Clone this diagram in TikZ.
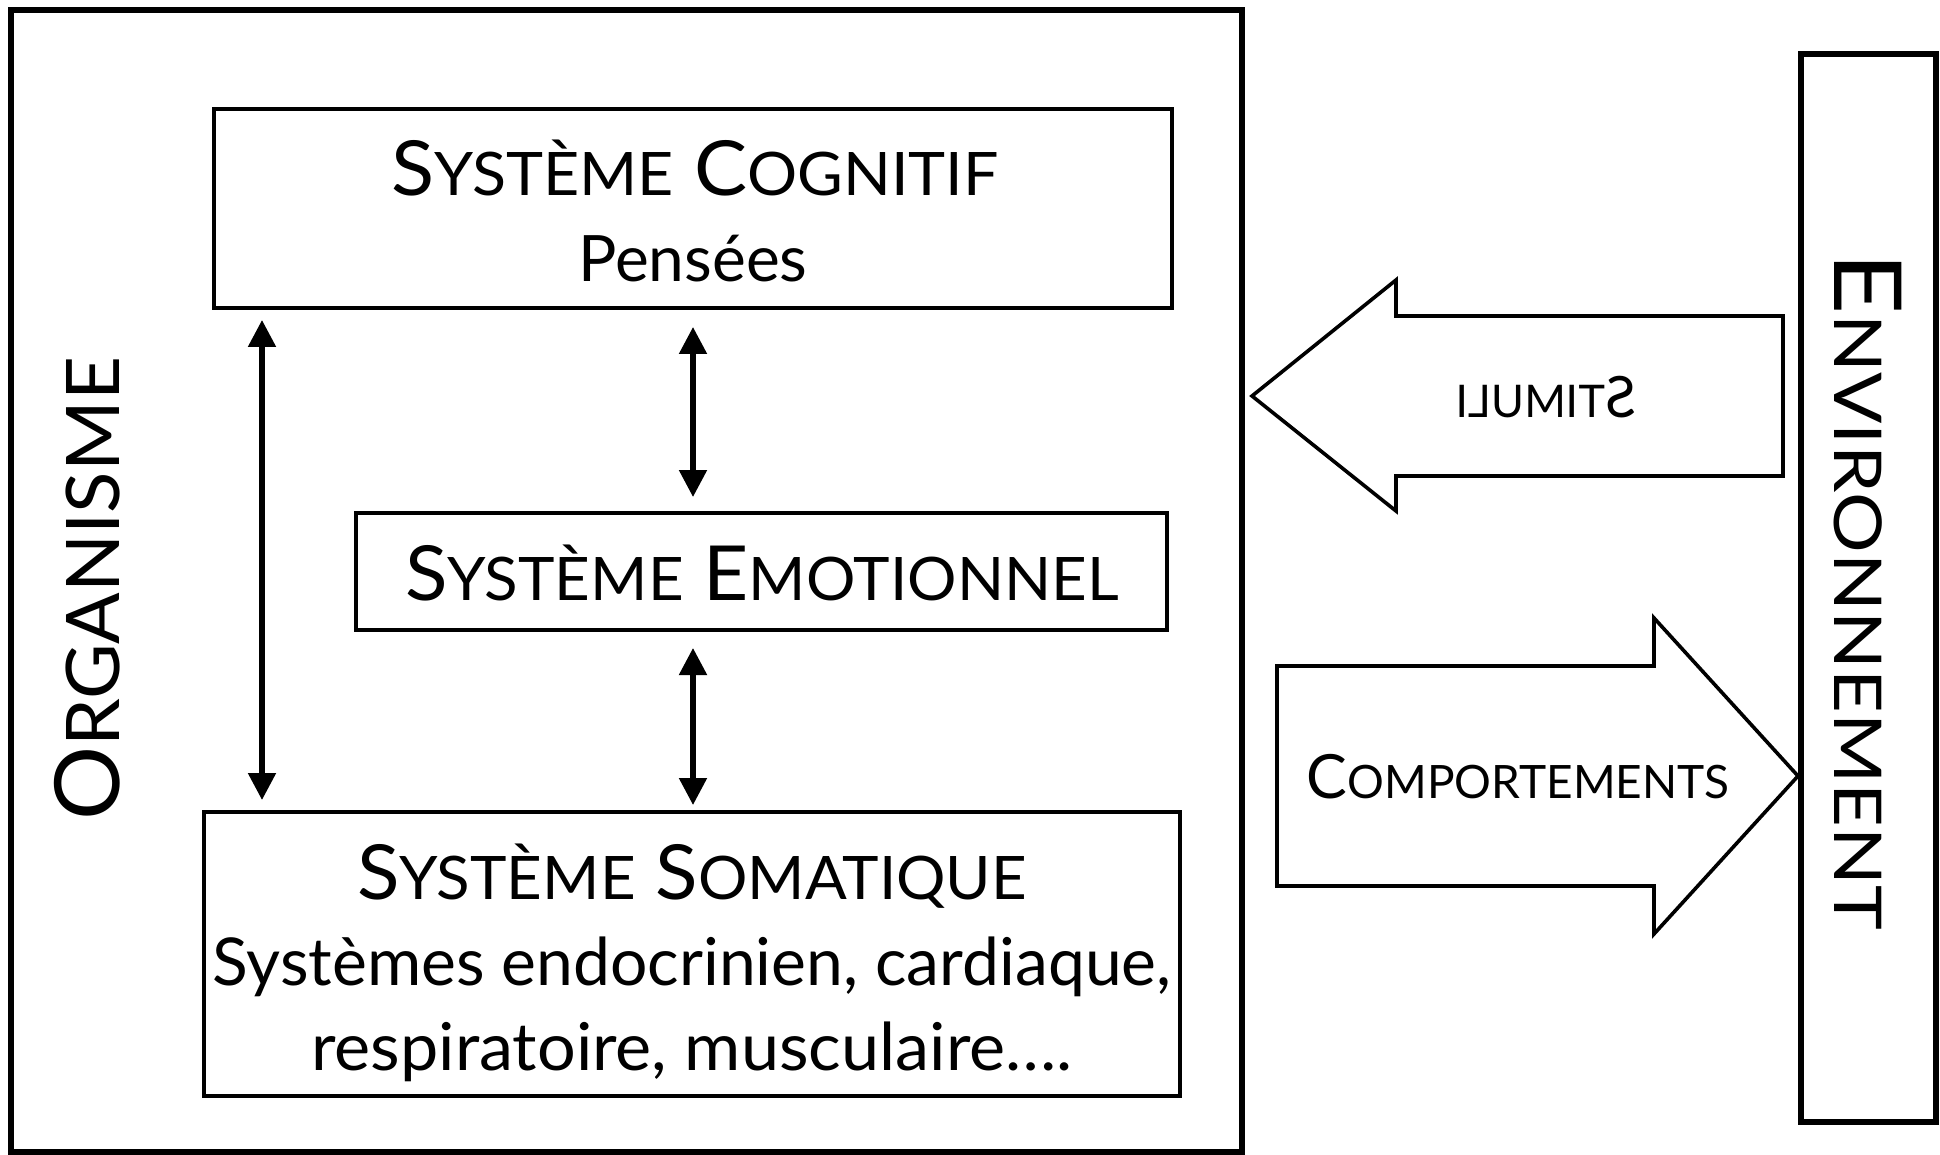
\documentclass[tikz,border=0pt]{standalone}
\usepackage{fontspec}
\setmainfont{Lato}
\usetikzlibrary{arrows.meta}

% small capitals built from two sizes of capitals
\newcommand\smc[2]{{\fontsize{#1}{#1}\selectfont #2}}
\newcommand\fsz[1]{\fontsize{#1}{#1}\selectfont}
% horizontal stretch of a label
\newcommand\wide[2]{\scalebox{#1}[1]{#2}}

\begin{document}
\begin{tikzpicture}[x=0.5pt,y=-0.5pt,
  box/.style={draw, line width=2.3pt, inner sep=0pt, outer sep=0pt, anchor=north west},
  frame/.style={draw, line width=3.4pt, inner sep=0pt, outer sep=0pt, anchor=north west},
  dbl/.style={line width=2.6pt, {Triangle[length=13.5pt,width=13.5pt]}-{Triangle[length=13.5pt,width=13.5pt]}},
  blockarrow/.style={draw, line width=1.8pt, line join=miter, fill=white},
  label/.style={anchor=base, inner sep=0pt}]
\useasboundingbox (0,0) rectangle (1940,1155);

% organism and environment frames
\node[frame, minimum width=615.5pt, minimum height=571pt] (org) at (11,10) {};
\node[frame, minimum width=67.5pt, minimum height=534pt] (env) at (1801,54) {};

% the three systems
\node[box, minimum width=479pt, minimum height=99.5pt] (cog) at (214,109) {};
\node[box, minimum width=405.5pt, minimum height=58.5pt] (emo) at (356,513) {};
\node[box, minimum width=488pt, minimum height=142pt] (som) at (204,812) {};

% texts of the systems
\node[label, font=\fsz{38pt}] (cogT) at (695,196) {\wide{1.045}{S\smc{30pt}{YSTÈME} C\smc{30pt}{OGNITIF}}};
\node[label, font=\fsz{32pt}] (cogS) at (693,282) {Pensées};
\node[label, font=\fsz{38pt}] (emoT) at (762,600) {\wide{1.03}{S\smc{30pt}{YSTÈME} E\smc{30pt}{MOTIONNEL}}};
\node[label, font=\fsz{38pt}] (somT) at (692,899) {\wide{1.03}{S\smc{30pt}{YSTÈME} S\smc{30pt}{OMATIQUE}}};
\node[label, font=\fsz{33pt}] (somA) at (692,985) {Systèmes endocrinien, cardiaque,};
\node[label, font=\fsz{33pt}] (somB) at (692,1070) {\wide{1.035}{respiratoire, musculaire….}};

% frame titles
\node[label, rotate=90, font=\fsz{45pt}] (orgT) at (119,589) {\wide{1.03}{O\smc{37pt}{RGANISME}}};
\node[label, rotate=-90, font=\fsz{47pt}] (envT) at (1834,591) {\wide{1.15}{E\smc{33pt}{NVIRONNEMENT}}};

% links between the systems
\coordinate (xl) at (262,0);
\coordinate (xm) at (693,0);
\draw[dbl, shorten <=6pt, shorten >=6pt] (cog.south -| xl) -- (som.north -| xl);
\draw[dbl, shorten <=9.5pt, shorten >=8pt] (cog.south -| xm) -- (emo.north -| xm);
\draw[dbl, shorten <=9pt, shorten >=3.5pt] (emo.south -| xm) -- (som.north -| xm);

% stimuli coming from the environment
\draw[blockarrow] (1252,396) -- (1396,280) -- (1396,316) -- (1783,316)
  -- (1783,476) -- (1396,476) -- (1396,511) -- cycle;
\node[label, font=\fsz{28.5pt}] (stimT) at (1546,417) {\scalebox{-1}[1]{S\smc{22.5pt}{TIMULI}}};

% behaviours going to the environment
\draw[blockarrow] (1277,666) -- (1654,666) -- (1654,618) -- (1798,776)
  -- (1654,934) -- (1654,886) -- (1277,886) -- cycle;
\node[label, font=\fsz{30.5pt}] (compT) at (1518,798) {C\smc{23pt}{OMPORTEMENTS}};
\end{tikzpicture}
\end{document}
